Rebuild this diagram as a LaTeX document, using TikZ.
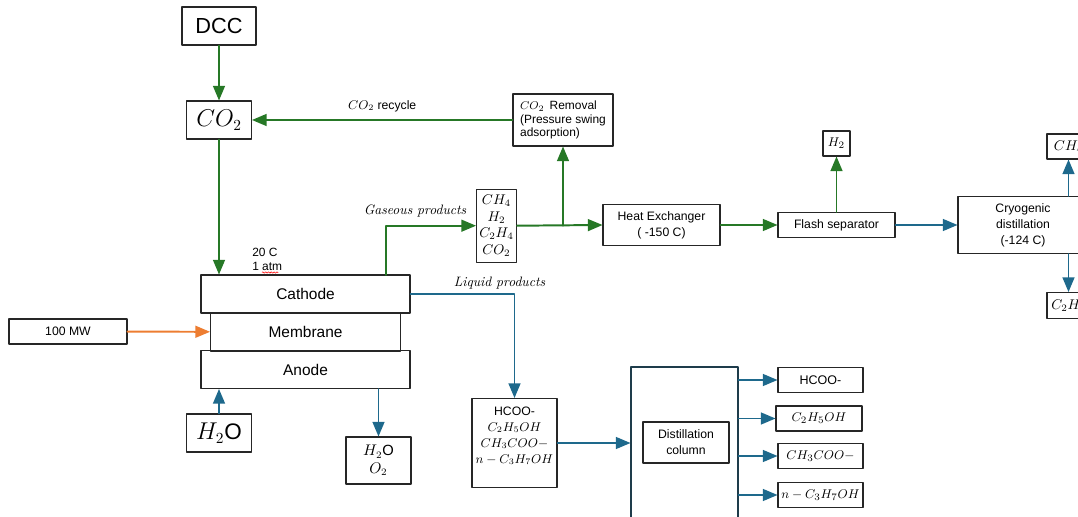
\documentclass[tikz,border=0pt]{standalone}
\usepackage{fontspec}
\setsansfont{Liberation Sans}
\usepackage{tikz}
\usetikzlibrary{arrows}
\usetikzlibrary{calc}
\usetikzlibrary{decorations.pathmorphing}
\definecolor{flowgreen}{RGB}{38,120,38}
\definecolor{flowblue}{RGB}{30,105,140}
\definecolor{floworange}{RGB}{237,125,49}
\definecolor{colborder}{RGB}{30,60,75}

\tikzset{
  box/.style={draw=black!85, line width=0.8pt, rectangle, inner sep=0pt, align=center,
    font=\sffamily\fontsize{8.7}{11.3}\selectfont},
  wh/.style 2 args={minimum width=#1*0.025cm, minimum height=#2*0.025cm},
  lbl/.style={inner sep=0pt, font=\fontsize{9.7}{11}\selectfont\itshape},
  gasflow/.style={->, draw=flowgreen, line width=1.4pt},
  liqflow/.style={->, draw=flowblue, line width=1.4pt},
  powerflow/.style={->, draw=floworange, line width=1.4pt},
}

\begin{document}
\begin{tikzpicture}[line cap=round,line join=round,>=triangle 45,x=0.025cm,y=-0.025cm]
\useasboundingbox (0,0) rectangle (1078,517);

% feed side
\node[box, wh={74}{38}, font=\sffamily\fontsize{15.5}{18}\selectfont] (dcc) at (219,26) {DCC};
\node[box, wh={65}{38}, font=\fontsize{16}{18}\selectfont] (co2) at (219,120) {$CO_2$};
\node[box, wh={100}{52}, align=left, font=\sffamily\fontsize{8.5}{9.6}\selectfont] (removal) at (563,120) {$CO_2$\, Removal\\(Pressure swing\\adsorption)};

% cell
\node[box, wh={190}{38}, font=\sffamily\fontsize{11}{13}\selectfont] (membrane) at (305.5,332) {Membrane};
\node[box, wh={209}{38}, font=\sffamily\fontsize{11}{13}\selectfont] (cathode) at (305.5,294) {Cathode};
\node[box, wh={209}{38}, font=\sffamily\fontsize{11}{13}\selectfont] (anode) at (305.5,369.5) {Anode};
\node[box, wh={118}{25}] (mw) at (68,331.5) {100 MW};
\node[box, wh={65}{38}, font=\sffamily\fontsize{16}{18}\selectfont] (water) at (219,433) {$H_2$O};
\node[box, wh={65}{47}, font=\sffamily\fontsize{10.5}{12.5}\selectfont] (waterout) at (378.5,460.5) {$H_2$O\\$O_2$};
\node[anchor=west, inner sep=0pt, font=\sffamily\fontsize{8.5}{10}\selectfont] (temp) at (252,252) {20 C};
\node[anchor=west, inner sep=0pt, font=\sffamily\fontsize{8.5}{10}\selectfont] (press) at (252,266) {1 atm};
\draw[red, line width=0.4pt, decorate, decoration={snake, amplitude=0.5pt, segment length=2pt}] (262,272.5) -- (278,272.5);

% gas train
\node[box, wh={40}{73}, font=\fontsize{10}{11.8}\selectfont] (gasmix) at (496.5,225.7) {$CH_4$\\$H_2$\\$C_2H_4$\\$CO_2$};
\node[box, wh={117}{41}] (hx) at (661.5,225) {Heat Exchanger\\( -150 C)};
\node[box, wh={117}{25}] (flash) at (836.5,225) {Flash separator};
\node[box, wh={27}{25}, font=\fontsize{9.5}{11}\selectfont] (h2) at (836.5,143.5) {$H_2$};
\node[box, wh={130}{57}] (cryo) at (1023,225) {Cryogenic\\distillation\\(-124 C)};
\node[box, wh={43}{25}, font=\fontsize{10}{11}\selectfont] (ch4) at (1068.5,146.5) {$CH_4$};
\node[box, wh={43}{26}, font=\fontsize{10}{11}\selectfont] (c2h4) at (1068.5,305.5) {$C_2H_4$};

% liquid train
\node[box, wh={85}{89}] (liqmix) at (514.5,443) {HCOO-\\$C_2H_5OH$\\$CH_3COO-$\\$n-C_3H_7OH$\\\mbox{}};
\node[box, draw=colborder, wh={107}{172}] (column) at (684.5,453) {};
\node[box, wh={86}{41}] (distil) at (686,442.5) {Distillation\\column};
\node[box, wh={85}{25}, font=\sffamily\fontsize{8.9}{11}\selectfont] (o1) at (820.5,380) {HCOO-};
\node[box, wh={86}{25}, font=\fontsize{9.5}{11}\selectfont] (o2) at (819,418.5) {$C_2H_5OH$};
\node[box, wh={85}{25}, font=\fontsize{9.5}{11}\selectfont] (o3) at (820.5,456) {$CH_3COO-$};
\node[box, wh={85}{25}, font=\fontsize{9.5}{11}\selectfont] (o4) at (820.5,495) {$n-C_3H_7OH$};

% green streams
\draw[gasflow] (dcc) -- (co2);
\draw[gasflow] (co2) -- (co2 |- cathode.north);
\draw[gasflow] (removal.west) -- node[above=5pt, inner sep=0pt, font=\sffamily\fontsize{8.7}{10}\selectfont] (recyclelbl) {$CO_2$ recycle} (co2.east);
\coordinate (gasout) at (386,275);
\draw[gasflow] (gasout) |- (gasmix.west);
\node[lbl] (gaslbl) at (415,211) {Gaseous products};
\draw[gasflow] (gasmix.east) -- (hx.west);
\coordinate (split) at (removal.south |- gasmix.east);
\draw[gasflow] (split) -- (removal.south);
\draw[gasflow] (hx) -- (flash);
\draw[gasflow] (flash) -- (h2);

% blue streams
\draw[liqflow] (flash) -- (cryo);
\draw[liqflow] (cryo.north -| ch4) -- (ch4);
\draw[liqflow] (cryo.south -| c2h4) -- (c2h4);
\draw[liqflow] (water) -- (anode.south -| water);
\draw[liqflow] (anode.south -| waterout) -- (waterout);
\draw[liqflow] (cathode.east) -| (liqmix.north);
\node[lbl] (liqlbl) at (499.5,283.5) {Liquid products};
\draw[liqflow] (liqmix.east) -- (liqmix.east -| column.west);
\foreach \o in {o1,o2,o3,o4}
  \draw[liqflow] (column.east |- \o) -- (\o.west);

% power
\draw[powerflow] (mw) -- (membrane);
\end{tikzpicture}
\end{document}
